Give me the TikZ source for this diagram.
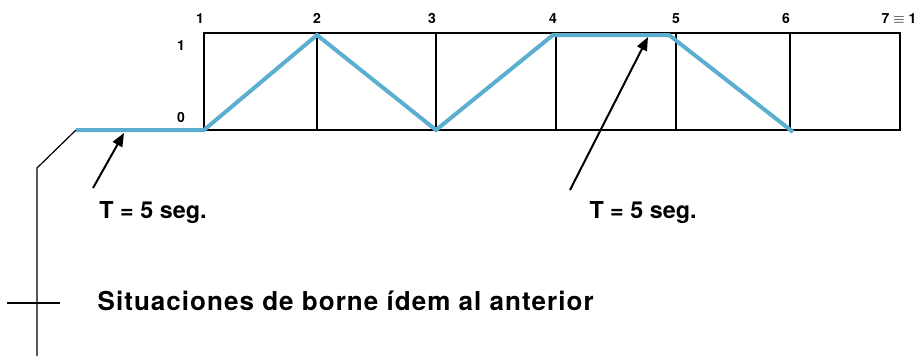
\documentclass[tikz,border=0pt]{standalone}
\usepackage{fontspec}
\setmainfont{TeX Gyre Heros}
\newfontfamily\widefont[LetterSpace=4]{TeX Gyre Heros}
\usetikzlibrary{arrows.meta}

\definecolor{signalblue}{RGB}{92,174,208}

\begin{document}
\begin{tikzpicture}[x=0.75pt, y=-0.75pt,
    gridline/.style={line width=1.5pt},
    signal/.style={signalblue, line width=3pt},
    pointer/.style={line width=1.5pt, -{Triangle[length=10pt,width=8pt]}},
    bracket/.style={line width=0.9pt},
    num/.style={font=\bfseries\fontsize{10.5}{12}\selectfont, anchor=base},
    note/.style={font=\bfseries\fontsize{17.5}{21}\selectfont, anchor=base}]
    \useasboundingbox (0,0) rectangle (921,358);

    % Grid of the cycle
    \foreach \i/\x in {1/204,2/317,3/436,4/556,5/676,6/790,7/900} {
        \coordinate (t\i) at (\x,33);
        \coordinate (b\i) at (\x,130);
    }
    \draw[gridline] (t1) rectangle (b7);
    \foreach \i in {2,...,6}
        \draw[gridline] (t\i) -- (b\i);

    % Signal
    \coordinate (start) at (76,130);
    \coordinate (peakA) at (317,35);
    \coordinate (peakB) at (553,35);
    \coordinate (peakC) at (669,35);
    \coordinate (stop) at (793,132);
    \draw[signal] (start) -- (b1) -- (peakA) -- (b3) -- (peakB) -- (peakC) -- (stop);

    % Step numbers
    \node[num] (n1) at (200,23) {1};
    \node[num] (n2) at (317,23) {2};
    \node[num] (n3) at (432,23) {3};
    \node[num] (n4) at (553,23) {4};
    \node[num] (n5) at (676,23) {5};
    \node[num] (n6) at (786,23) {6};
    \node[num, anchor=base east] (n7) at (921,23) {7 $\equiv$ 1};
    \node[num] (high) at (181,50) {1};
    \node[num] (low) at (181,122) {0};

    % Times
    \coordinate (tailA) at (93,188);
    \coordinate (headA) at (124,133);
    \coordinate (tailB) at (570,190);
    \coordinate (headB) at (648,37);
    \draw[pointer] (tailA) -- (headA);
    \draw[pointer] (tailB) -- (headB);
    \node[note] (timeA) at (153,218) {T = 5 seg.};
    \node[note] (timeB) at (643,218) {T = 5 seg.};

    % Bracket to the left
    \coordinate (bend) at (37,168);
    \coordinate (foot) at (37,356);
    \coordinate (tickL) at (7,303);
    \coordinate (tickR) at (60,303);
    \draw[bracket] (start) -- (bend) -- (foot);
    \draw[bracket] (tickL) -- (tickR);
    \node[note, anchor=base west, font=\bfseries\fontsize{19.5}{22}\selectfont] (same) at (93,310) {\widefont Situaciones de borne ídem al anterior};
\end{tikzpicture}
\end{document}
